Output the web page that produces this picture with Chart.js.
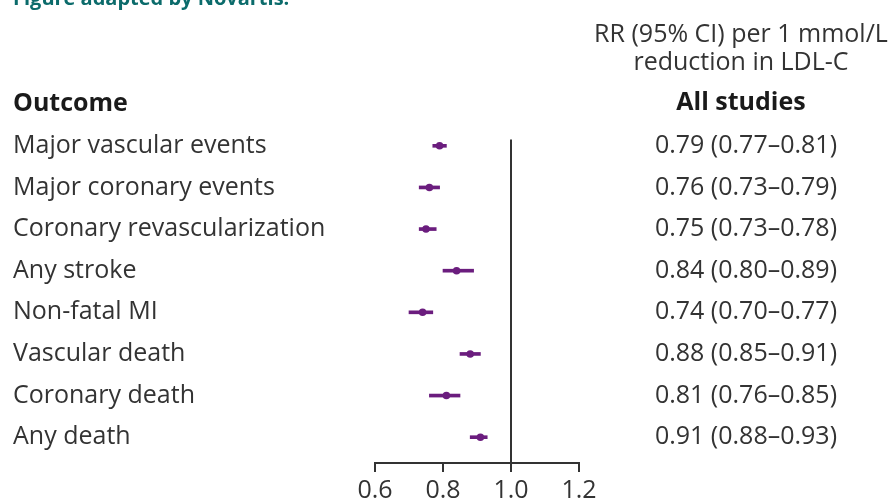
<!DOCTYPE html>
<html>
<head>
<meta charset="utf-8">
<script src="https://cdn.jsdelivr.net/npm/chart.js@4/dist/chart.umd.min.js"></script>
<style>
  html, body { margin: 0; padding: 0; background: #fff; }
  #wrap { position: relative; width: 891px; height: 502px; overflow: hidden; font-family: "Open Sans", sans-serif; }
  #c { position: absolute; left: 0; top: 0; }
  .t { position: absolute; white-space: nowrap; color: #333; font-size: 25px; line-height: 25px; }
  .b { font-weight: 700; color: #1a1a1a; }
  .ctr { width: 320px; text-align: center; }
</style>
</head>
<body>
<div id="wrap">
  <canvas id="c" width="891" height="502"></canvas>
  <div class="t b" style="left:13px; top:-12px; font-size:20px; line-height:20px; color:#0b6b6b;">Figure adapted by Novartis.</div>
  <div class="t ctr" style="left:581px; top:20px;">RR (95% CI) per 1 mmol/L</div>
  <div class="t ctr" style="left:581px; top:48px;">reduction in LDL-C</div>
  <div class="t b ctr" style="left:581px; top:88px;">All studies</div>
  <div class="t b" style="left:13px; top:89px;">Outcome</div>
</div>
<script>
// ---- data ----
const outcomes = [
  "Major vascular events",
  "Major coronary events",
  "Coronary revascularization",
  "Any stroke",
  "Non-fatal MI",
  "Vascular death",
  "Coronary death",
  "Any death"
];
const rr     = [0.79, 0.76, 0.75, 0.84, 0.74, 0.88, 0.81, 0.91];
const ciLow  = [0.77, 0.73, 0.73, 0.80, 0.70, 0.85, 0.76, 0.88];
const ciHigh = [0.81, 0.79, 0.78, 0.89, 0.77, 0.91, 0.85, 0.93];
const xTicks = [0.6, 0.8, 1.0, 1.2];
const refValue = 1.0;

// ---- derived ----
const f2 = v => v.toFixed(2);
const rrLabels = rr.map((v, i) => `${f2(v)} (${f2(ciLow[i])}\u2013${f2(ciHigh[i])})`);
const rowIdx = outcomes.map((_, i) => i);

const FONT = { family: "'Open Sans', sans-serif", size: 25 };
const TEXT = '#333';
const AXIS = '#333';
const PURPLE = '#6b1d7e';

const refLine = {
  id: 'refLine',
  beforeDatasetsDraw(chart) {
    const { ctx, scales: { x, y }, chartArea } = chart;
    const px = x.getPixelForValue(refValue);
    ctx.save();
    ctx.strokeStyle = AXIS;
    ctx.lineWidth = 2;
    ctx.beginPath();
    ctx.moveTo(px, y.getPixelForValue(-0.15));
    ctx.lineTo(px, chartArea.bottom);
    ctx.stroke();
    ctx.restore();
  }
};

const yCommon = {
  type: 'linear',
  reverse: true,
  offset: false,
  min: -0.5,
  max: 7.62,
  afterBuildTicks: s => { s.ticks = rowIdx.map(v => ({ value: v })); },
  grid: { display: false, drawTicks: false, offset: false },
  border: { display: false }
};

new Chart(document.getElementById('c'), {
  type: 'bar',
  data: {
    datasets: [
      {
        type: 'bar',
        indexAxis: 'y',
        data: rowIdx.map(i => ({ x: [ciLow[i], ciHigh[i]], y: i })),
        backgroundColor: PURPLE,
        borderWidth: 0,
        barThickness: 3,
        xAxisID: 'x',
        yAxisID: 'y'
      },
      {
        type: 'scatter',
        data: rowIdx.map(i => ({ x: rr[i], y: i })),
        backgroundColor: PURPLE,
        borderWidth: 0,
        pointRadius: 3.8,
        pointStyle: 'circle',
        xAxisID: 'x',
        yAxisID: 'y'
      }
    ]
  },
  options: {
    responsive: false,
    animation: false,
    indexAxis: 'y',
    layout: { padding: { top: 125, left: 13, right: 54, bottom: 0 } },
    plugins: { legend: { display: false }, tooltip: { enabled: false }, title: { display: false } },
    scales: {
      x: {
        type: 'linear',
        position: 'bottom',
        offset: false,
        min: 0.6,
        max: 1.2,
        afterBuildTicks: s => { s.ticks = xTicks.map(v => ({ value: v })); },
        ticks: { callback: v => Number(v).toFixed(1), font: FONT, color: TEXT, padding: 4, maxRotation: 0, autoSkip: false },
        grid: { drawOnChartArea: false, drawTicks: true, tickLength: 9, color: AXIS, lineWidth: 2 },
        border: { display: true, color: AXIS, width: 2 },
        afterFit: s => { s.height = 39; }
      },
      y: Object.assign({}, yCommon, {
        position: 'left',
        ticks: { callback: v => outcomes[v], crossAlign: 'far', font: FONT, color: TEXT, autoSkip: false, padding: 0 },
        afterFit: s => { s.width = 362; }
      }),
      y2: Object.assign({}, yCommon, {
        position: 'right',
        ticks: { callback: v => rrLabels[v], crossAlign: 'far', font: FONT, color: TEXT, autoSkip: false, padding: 0 },
        afterFit: s => { s.width = 258; }
      })
    }
  },
  plugins: [refLine]
});
</script>
</body>
</html>
